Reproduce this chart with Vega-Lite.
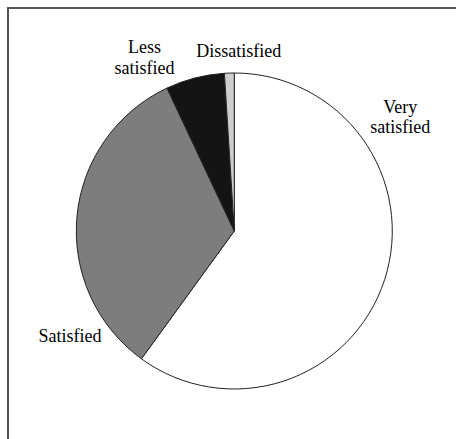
{
  "$schema": "https://vega.github.io/schema/vega-lite/v6.json",
  "width": 452.6,
  "height": 446,
  "autosize": "none",
  "padding": {"left": 8, "top": 8, "right": -4.6, "bottom": -15},
  "background": "white",
  "view": {"stroke": "#555555", "strokeWidth": 2, "fill": "white"},
  "data": {
    "values": [
      {"category": "Very satisfied", "value": 60},
      {"category": "Satisfied", "value": 33},
      {"category": "Less satisfied", "value": 6},
      {"category": "Dissatisfied", "value": 1}
    ]
  },
  "encoding": {
    "theta": {"field": "value", "type": "quantitative", "stack": true},
    "order": {"field": "category", "type": "nominal", "sort": "descending"}
  },
  "layer": [
    {
      "mark": {"type": "arc", "radius": 158, "stroke": "#222222", "strokeWidth": 1},
      "encoding": {
        "color": {
          "field": "category",
          "type": "nominal",
          "scale": {
            "domain": ["Very satisfied", "Satisfied", "Less satisfied", "Dissatisfied"],
            "range": ["#ffffff", "#7d7d7d", "#141414", "#cdcdcd"]
          },
          "legend": null
        }
      }
    },
    {
      "mark": {"type": "text", "radius": 170, "dx": 4.3, "dy": -170.2, "font": "Liberation Serif", "fontSize": 18, "lineBreak": "\n", "lineHeight": 20, "align": "center", "baseline": "alphabetic", "color": "black"},
      "encoding": {
        "text": {"condition": {"test": "datum.category === 'Very satisfied'", "value": "Very\nsatisfied"}, "value": ""}
      }
    },
    {
      "mark": {"type": "text", "radius": 170, "dx": 4.9, "dy": 126.7, "font": "Liberation Serif", "fontSize": 18, "lineBreak": "\n", "lineHeight": 20, "align": "center", "baseline": "alphabetic", "color": "black"},
      "encoding": {
        "text": {"condition": {"test": "datum.category === 'Satisfied'", "value": "Satisfied"}, "value": ""}
      }
    },
    {
      "mark": {"type": "text", "radius": 170, "dx": -47.5, "dy": -13, "font": "Liberation Serif", "fontSize": 18, "lineBreak": "\n", "lineHeight": 21, "align": "center", "baseline": "alphabetic", "color": "black"},
      "encoding": {
        "text": {"condition": {"test": "datum.category === 'Less satisfied'", "value": "Less\nsatisfied"}, "value": ""}
      }
    },
    {
      "mark": {"type": "text", "radius": 170, "dx": 9.8, "dy": -3.8, "font": "Liberation Serif", "fontSize": 18, "lineBreak": "\n", "lineHeight": 20, "align": "center", "baseline": "alphabetic", "color": "black"},
      "encoding": {
        "text": {"condition": {"test": "datum.category === 'Dissatisfied'", "value": "Dissatisfied"}, "value": ""}
      }
    }
  ]
}
